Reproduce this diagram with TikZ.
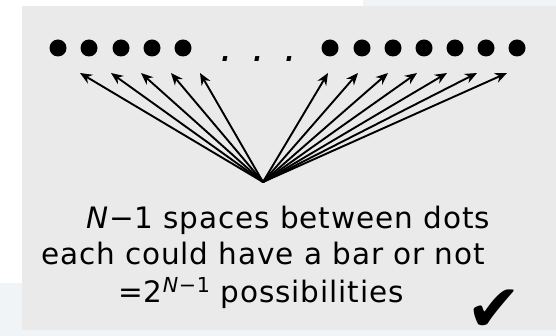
\documentclass[tikz,border=0pt]{standalone}
\usepackage{fontspec}
\setsansfont{DejaVu Sans}
\newfontfamily\lblfont[LetterSpace=3]{DejaVu Sans}
\usetikzlibrary{arrows.meta}
\definecolor{grey100}{HTML}{EAEAEA}
\definecolor{blue050}{HTML}{F0F4F7}
\tikzset{
  dot/.style  ={circle, fill=black, minimum size=17pt, inner sep=0pt},
  ar/.style   ={-{Stealth[length=12pt,width=10pt]}, line width=1.9pt},
  lbl/.style  ={font=\lblfont\fontsize{29.5}{36}\selectfont, inner sep=0pt,
                anchor=base},
  tick/.style ={font=\sffamily\fontsize{66}{66}\selectfont, inner sep=0pt,
                text depth=0pt, anchor=base}
}

\begin{document}
\begin{tikzpicture}[x=1pt,y=-1pt]
\useasboundingbox (0,0) rectangle (556,336);
\fill[white] (0,0) rectangle (556,336);
\fill[blue050] (363,0) rectangle (556,6);
\fill[blue050] (0,283) rectangle (556,336);
\fill[grey100] (22,6) rectangle (556,330);
% dots
\foreach \x [count=\i] in {58,89,121,152,183}
  \node[dot] (d\i) at (\x,48) {};
\foreach \x [count=\i] in {330,362,393,424,455,486,517}
  \node[dot] (r\i) at (\x,48) {};
\node[font=\sffamily\itshape\fontsize{40}{40}\selectfont, inner sep=0pt,
      anchor=base] (ell) at (259,62) {.\hspace{19pt}.\hspace{19pt}.};
% arrows to the spaces
\coordinate (apex) at (263,182);
\foreach \x [count=\i] in {80,111,141,171,200,328,358,388,417,447,477,507}
  \coordinate (t\i) at (\x,73);
\foreach \i in {1,...,12}
  \draw[ar] (apex) -- (t\i);
% text
\node[lbl] (l1) at (288,229) {\textit{N}−1  spaces between dots};
\node[lbl] (l2) at (263,265) {each could have a bar or not};
\node[lbl] (l3) at (261,302) {=2\textsuperscript{\textit{N}−1} possibilities};
\node[tick] (ok) at (494,331) {✔};
\end{tikzpicture}
\end{document}
